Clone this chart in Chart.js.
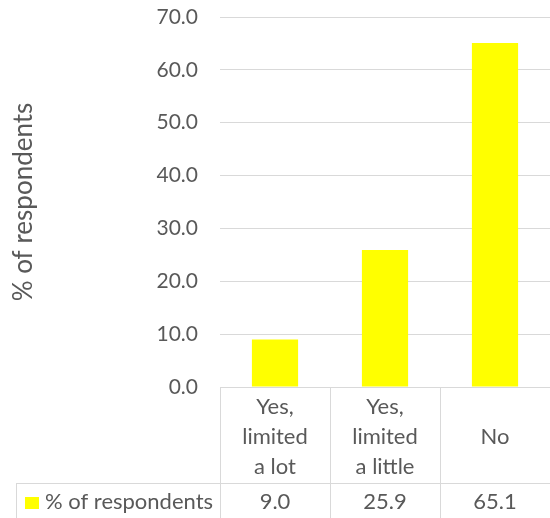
<!DOCTYPE html>
<html>
<head>
<meta charset="UTF-8">
<title>% of respondents</title>
<script src="https://cdn.jsdelivr.net/npm/chart.js@4/dist/chart.umd.min.js"></script>
<style>
	body { margin: 0; background: #fff; }
	#container { width: 550px; height: 518px; }
</style>
</head>
<body>
<div id="container"><canvas id="barcanvas"></canvas></div>
<script>

var categories = [['Yes,', 'limited', 'a lot'], ['Yes,', 'limited', 'a little'], ['No']];
var seriesName = '% of respondents';
var respondents = [9.0, 25.9, 65.1];
var yTicks = [0, 10, 20, 30, 40, 50, 60, 70];

var textColor = '#595959';
var lineColor = '#d9d9d9';
var barColor = '#ffff00';
var fontFamily = 'Lato, "Noto Sans", sans-serif';

// data table under the plot, like the excel one
var dataTable = {
	id: 'dataTable',
	afterDraw: function(chart) {
		var ctx = chart.ctx;
		var xs = chart.scales.x;
		var area = chart.chartArea;
		var n = categories.length;
		var colW = xs.width / n;
		var top = area.bottom;
		var split = 483;
		var bottom = chart.height;

		ctx.save();
		ctx.strokeStyle = lineColor;
		ctx.lineWidth = 1;
		ctx.beginPath();
		ctx.moveTo(area.left, top + 0.5);
		ctx.lineTo(area.right, top + 0.5);
		ctx.moveTo(16, split + 0.5);
		ctx.lineTo(area.right, split + 0.5);
		for (var i = 0; i < n; i++) {
			var bx = Math.round(xs.getPixelForValue(i) - colW / 2) + 0.5;
			ctx.moveTo(bx, top);
			ctx.lineTo(bx, bottom);
		}
		ctx.moveTo(16.5, split);
		ctx.lineTo(16.5, bottom);
		ctx.stroke();

		ctx.fillStyle = textColor;
		ctx.font = '22px ' + fontFamily;
		ctx.textAlign = 'center';
		ctx.textBaseline = 'middle';
		var lh = 30;
		var mid = 437;
		for (var j = 0; j < n; j++) {
			var cx = xs.getPixelForValue(j);
			var lines = categories[j];
			var y0 = mid - (lines.length - 1) / 2 * lh;
			for (var k = 0; k < lines.length; k++) {
				ctx.fillText(lines[k], cx, y0 + k * lh);
			}
			ctx.fillText(respondents[j].toFixed(1), cx, 502);
		}

		// legend key
		ctx.fillStyle = barColor;
		ctx.fillRect(25, 497, 14, 12);
		ctx.fillStyle = textColor;
		ctx.textAlign = 'left';
		ctx.fillText(seriesName, 45, 502);
		ctx.restore();
	}
};

window.onload = function() {
	var ctx = document.getElementById('barcanvas').getContext('2d');
	window.myBar = new Chart(ctx, {
		type: 'bar',
		data: {
			labels: categories.map(function(c) { return c.join(' '); }),
			datasets: [{
				label: seriesName,
				backgroundColor: barColor,
				borderWidth: 0,
				data: respondents,
				categoryPercentage: 0.42,
				barPercentage: 1
			}]
		},
		options: {
			responsive: true,
			maintainAspectRatio: false,
			animation: false,
			layout: { padding: { top: 17, right: 0, bottom: 0, left: 0 } },
			plugins: {
				legend: { display: false },
				tooltip: { enabled: false }
			},
			scales: {
				x: {
					grid: { display: false },
					border: { display: false },
					ticks: { display: false },
					afterFit: function(s) { s.height = 131; }
				},
				y: {
					min: 0,
					max: 70,
					afterBuildTicks: function(s) {
						s.ticks = yTicks.map(function(v) { return { value: v }; });
					},
					grid: { color: lineColor, lineWidth: 1, drawTicks: false },
					border: { display: false },
					ticks: {
						color: textColor,
						font: { family: fontFamily, size: 21 },
						padding: 22,
						callback: function(v) { return Number(v).toFixed(1); }
					},
					title: {
						display: true,
						text: seriesName,
						color: textColor,
						font: { family: fontFamily, size: 26 },
						padding: { top: 8, bottom: 0 }
					},
					afterFit: function(s) {
						s.width = 220;
						s.paddingTop = 0;
						s.paddingBottom = 0;
					}
				}
			}
		},
		plugins: [dataTable]
	});
};

</script>
</body>
</html>
